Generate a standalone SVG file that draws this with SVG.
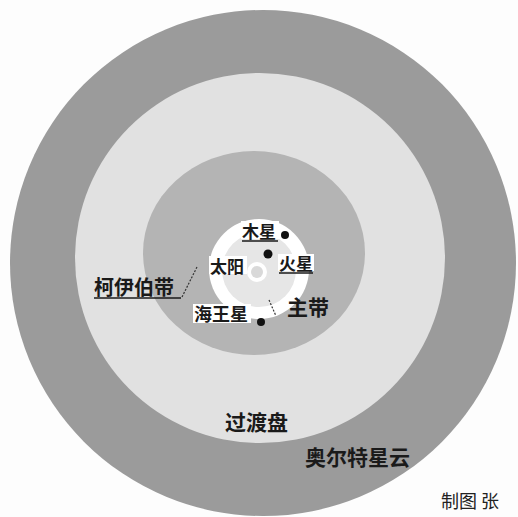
<svg xmlns="http://www.w3.org/2000/svg" width="518" height="517" viewBox="0 0 518 517">
<style>
text{font-family:"Noto Sans CJK SC","Noto Sans",sans-serif;fill:#1a1a1a;font-weight:bold}
.lbl-bg{fill:#ffffff}
.ul{stroke:#1a1a1a;stroke-width:1.5}
.dash{stroke:#333;stroke-width:1.2;stroke-dasharray:2 1.5;fill:none}
.planet{fill:#111}
</style>
<rect width="518" height="517" fill="#fdfdfd"/>
<g id="oort-cloud">
<circle cx="263" cy="263" r="253" fill="#9b9b9b"/>
</g>
<g id="transition-disk">
<circle cx="260" cy="258" r="185" fill="#e1e1e1"/>
</g>
<g id="kuiper-belt">
<ellipse cx="254" cy="253" rx="111" ry="102" fill="#b4b4b4"/>
</g>
<g id="inner-system">
<circle cx="259" cy="269" r="50" fill="#ffffff"/>
<circle cx="259" cy="270" r="37" fill="#e6e6e6"/>
<circle cx="257" cy="272" r="10" fill="#ffffff"/>
<circle cx="257" cy="272" r="6" fill="#d9d9d9"/>
</g>
<g id="connectors">
<line class="dash" x1="182" y1="297" x2="197" y2="267"/>
<line class="dash" x1="269" y1="300" x2="276" y2="316"/>
</g>
<g id="jupiter">
<rect class="lbl-bg" x="241" y="221" width="38" height="18"/>
<text x="242" y="238" font-size="17">木星</text>
<line class="ul" x1="242" y1="241" x2="278" y2="241"/>
<circle class="planet" cx="285" cy="235" r="4"/>
</g>
<g id="mars">
<circle class="planet" cx="268" cy="254" r="4.5"/>
<rect class="lbl-bg" x="278" y="254" width="36" height="17"/>
<text x="279" y="270" font-size="17">火星</text>
<line class="ul" x1="279" y1="273" x2="313" y2="273"/>
</g>
<g id="sun">
<rect class="lbl-bg" x="209" y="256" width="38" height="18"/>
<text x="210" y="273" font-size="17">太阳</text>
</g>
<g id="kuiper-label">
<text x="94" y="295" font-size="20">柯伊伯带</text>
<line class="ul" x1="94" y1="298" x2="181" y2="298"/>
</g>
<g id="neptune">
<rect class="lbl-bg" x="193" y="304" width="58" height="19"/>
<text x="194" y="321" font-size="18">海王星</text>
<circle class="planet" cx="261" cy="322" r="4"/>
</g>
<g id="main-belt">
<text x="287" y="315" font-size="21">主带</text>
</g>
<g id="transition-label">
<text x="225" y="430" font-size="21">过渡盘</text>
</g>
<g id="oort-label">
<text x="305" y="465" font-size="21">奥尔特星云</text>
</g>
<g id="credit">
<text x="441" y="508" font-size="18" style="font-weight:normal;fill:#222">制图 张</text>
</g>
</svg>
